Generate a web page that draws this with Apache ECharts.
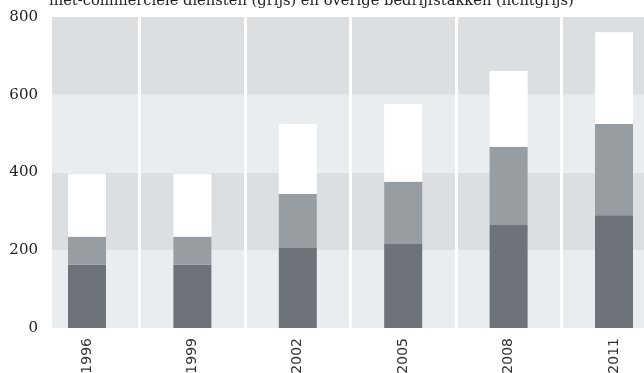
<!DOCTYPE html>
<html>
<head>
<meta charset="utf-8">
<script src="https://cdn.jsdelivr.net/npm/echarts@6/dist/echarts.min.js"></script>
<style>
  html, body { margin: 0; padding: 0; background: #ffffff; }
  #chart { width: 644px; height: 373px; }
</style>
</head>
<body>
<div id="chart"></div>
<script>
// Years on the horizontal axis
const years = ['1996', '1999', '2002', '2005', '2008', '2011'];
// Stacked segments (bottom to top)
const commercial = [163, 163, 206, 216, 265, 290];     // dark grey
const nonCommercial = [72, 72, 139, 160, 201, 235];    // grey
const otherSectors = [162, 162, 180, 200, 195, 236];   // light (white)
// Value axis ticks
const yTicks = [0, 200, 400, 600, 800];

const titleText = 'niet-commerciële diensten (grijs) en overige bedrijfstakken (lichtgrijs)';

const chart = echarts.init(document.getElementById('chart'), null, { renderer: 'canvas' });

const yMin = yTicks[0];
const yMax = yTicks[yTicks.length - 1];
const yStep = yTicks[1] - yTicks[0];

const option = {
  animation: false,
  backgroundColor: '#ffffff',
  title: {
    text: titleText,
    left: 49,
    top: -6,
    padding: 0,
    textStyle: {
      fontFamily: 'DejaVu Serif',
      fontSize: 14.7,
      fontWeight: 'normal',
      color: '#222222'
    }
  },
  grid: [
    // background panel with the horizontal bands
    { left: 52, right: 0, top: 17, bottom: 45, outerBoundsMode: 'none', containLabel: false },
    // bar panel, its category bands run past both edges
    { left: 34.3, right: -22.7, top: 17, bottom: 45, outerBoundsMode: 'none', containLabel: false }
  ],
  xAxis: [
    {
      gridIndex: 0, type: 'value', min: 0, max: 1,
      show: false
    },
    {
      gridIndex: 1, type: 'category', data: years,
      boundaryGap: true,
      axisLine: { show: false },
      axisTick: { show: false },
      axisLabel: {
        rotate: 90,
        margin: 10,
        fontFamily: 'DejaVu Sans',
        fontSize: 14,
        color: '#333333'
      },
      splitLine: {
        show: true,
        interval: function (index) { return index !== 0; },
        lineStyle: { color: '#ffffff', width: 3 }
      },
      z: 1
    }
  ],
  yAxis: [
    {
      gridIndex: 0, type: 'value', min: yMin, max: yMax, interval: yStep,
      axisLine: { show: false },
      axisTick: { show: false },
      splitLine: { show: false },
      splitArea: {
        show: true,
        areaStyle: { color: ['#e9edf0', '#dcdfe2'] }
      },
      axisLabel: {
        margin: 14,
        fontFamily: 'DejaVu Serif',
        fontSize: 15,
        color: '#222222'
      },
      z: 0
    },
    {
      gridIndex: 1, type: 'value', min: yMin, max: yMax, interval: yStep,
      show: false,
      splitLine: { show: false }
    }
  ],
  series: [
    {
      name: 'commercieel', type: 'bar', stack: 'total',
      xAxisIndex: 1, yAxisIndex: 1, barWidth: 38,
      itemStyle: { color: '#6e7279' },
      data: commercial, z: 3
    },
    {
      name: 'niet-commercieel', type: 'bar', stack: 'total',
      xAxisIndex: 1, yAxisIndex: 1, barWidth: 38,
      itemStyle: { color: '#989da1' },
      data: nonCommercial, z: 3
    },
    {
      name: 'overig', type: 'bar', stack: 'total',
      xAxisIndex: 1, yAxisIndex: 1, barWidth: 38,
      itemStyle: { color: '#ffffff' },
      data: otherSectors, z: 3
    }
  ]
};

chart.setOption(option);
</script>
</body>
</html>
